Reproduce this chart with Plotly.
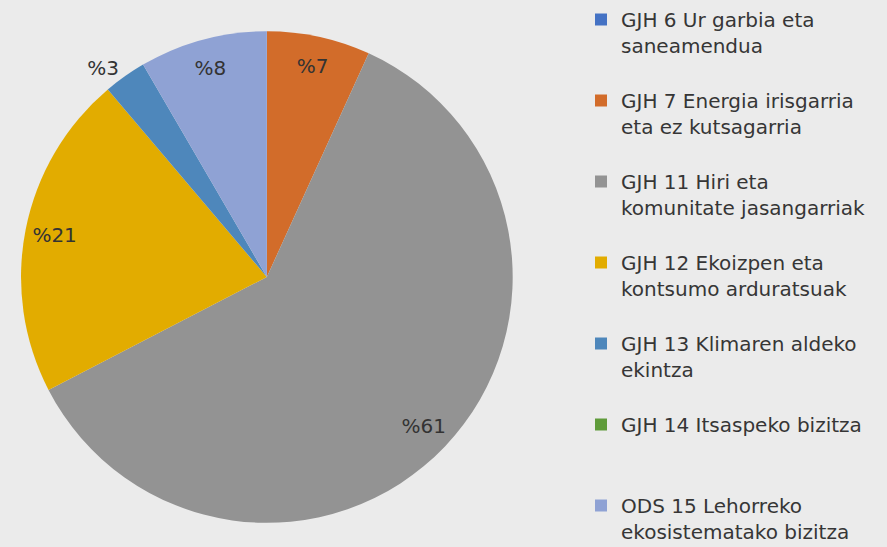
import plotly.graph_objects as go

labels = [
    "GJH 6 Ur garbia eta<br>saneamendua<br>&nbsp;",
    "GJH 7 Energia irisgarria<br>eta ez kutsagarria<br>&nbsp;",
    "GJH 11 Hiri eta<br>komunitate jasangarriak<br>&nbsp;",
    "GJH 12 Ekoizpen eta<br>kontsumo arduratsuak<br>&nbsp;",
    "GJH 13 Klimaren aldeko<br>ekintza<br>&nbsp;",
    "GJH 14 Itsaspeko bizitza<br>&nbsp;<br>&nbsp;",
    "ODS 15 Lehorreko<br>ekosistematako bizitza",
]
values = [0, 6.8, 60.6, 21.4, 2.8, 0, 8.4]
slice_text = ["", "%7", "%61", "%21", "%3", "", "%8"]
text_pos = ["inside", "inside", "inside", "inside", "outside", "inside", "inside"]
colors = ["#4472C4", "#D26C2A", "#939393", "#E2AC00", "#4E87BB", "#5F9B3A", "#8FA2D4"]

domain = dict(x=[0.0237, 0.578], y=[0.0439, 0.9433])
label_font = dict(family="DejaVu Sans", size=20, color="#333333")

fig = go.Figure()
# full pie (colours + legend)
fig.add_trace(go.Pie(
    labels=labels, values=values,
    textinfo="none",
    sort=False, direction="clockwise", rotation=0,
    marker=dict(colors=colors, line=dict(width=0)),
    domain=domain, showlegend=True, hoverinfo="skip",
))
# transparent ring overlay carrying the percentage labels near the rim
fig.add_trace(go.Pie(
    labels=labels, values=values,
    text=slice_text, textinfo="text", textposition=text_pos,
    insidetextorientation="horizontal",
    textfont=label_font, outsidetextfont=label_font,
    sort=False, direction="clockwise", rotation=0, hole=0.76,
    marker=dict(colors=["rgba(0,0,0,0)"] * len(values), line=dict(width=0)),
    domain=domain, showlegend=False,
))

fig.update_layout(
    width=887, height=547,
    margin=dict(l=0, r=0, t=0, b=0),
    paper_bgcolor="#ebebeb",
    plot_bgcolor="#ebebeb",
    legend=dict(
        x=0.655, xanchor="left",
        y=0.977, yanchor="top",
        valign="top",
        maxheight=700,
        font=dict(family="DejaVu Sans", size=20, color="#363636"),
        bgcolor="rgba(0,0,0,0)",
        traceorder="normal",
    ),
)

fig.write_html(
    "out.html",
    config={"displayModeBar": False},
    post_script="document.body.style.margin='0';document.body.style.background='#ebebeb';",
)
